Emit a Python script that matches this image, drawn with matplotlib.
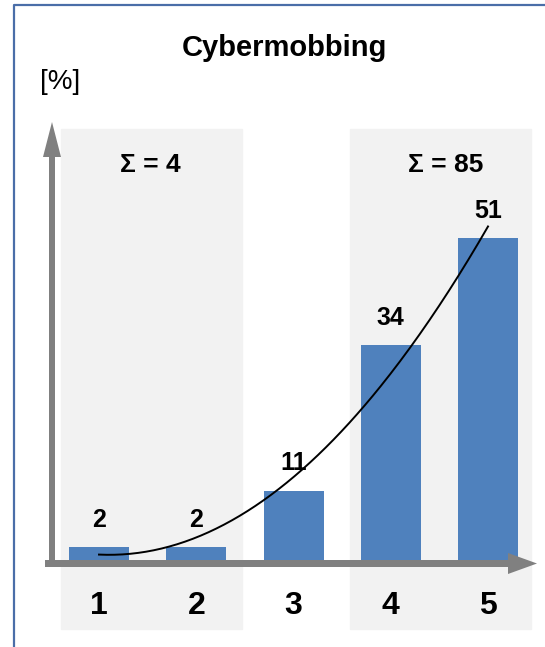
import numpy as np
import matplotlib.pyplot as plt
from matplotlib.patches import Rectangle

plt.rcParams['font.family'] = ['Liberation Sans', 'DejaVu Sans']

# Survey answers on a 1..5 scale, share in percent
categories = [1, 2, 3, 4, 5]
values = [2, 2, 11, 34, 51]
title = "Cybermobbing"
unit_label = "[%]"
sum_low = sum(values[:2])
sum_high = sum(values[3:])

bar_color = "#4f81bd"
shade = "#f2f2f2"
axis_gray = "#808080"
frame_blue = "#4a6ea8"

W, H = 545, 647
fig = plt.figure(figsize=(W / 100, H / 100), dpi=100)

# background layer in pixel units (frame, shaded groups)
bg = fig.add_axes([0, 0, 1, 1])
bg.set_xlim(0, W)
bg.set_ylim(H, 0)
bg.axis("off")

bg.plot([14, 14, W], [H, 5, 5], color=frame_blue, lw=1.6, solid_capstyle="butt")
bg.add_patch(Rectangle((61, 129), 181, 500, color=shade, zorder=0))
bg.add_patch(Rectangle((350, 129), 181, 500, color=shade, zorder=0))

# data layer on top
ax = fig.add_axes([0, 0, 1, 1])
ax.patch.set_alpha(0)
ax.axis("off")
ax.set_xlim(-0.018, 5.586)
ax.set_ylim(-13.79, 88.75)

ax.bar(categories, values, width=0.617, color=bar_color, zorder=2)

for x, v in zip(categories, values):
    ax.annotate(str(v), (x, v), xytext=(0, 11), textcoords="offset points",
                ha="center", va="bottom", fontsize=18, fontweight="bold", zorder=5)

# quadratic trend through the bars
coef = np.polyfit(categories, values, 2)
xs = np.linspace(categories[0], categories[-1], 200)
ax.plot(xs, np.polyval(coef, xs), color="black", lw=1.4, zorder=4)

# axis arrows: shaft + triangular head, drawn in pixel units
ax2 = fig.add_axes([0, 0, 1, 1], sharex=bg, sharey=bg)
ax2.patch.set_alpha(0)
ax2.axis("off")
ax2.fill([45, 509, 509, 45], [560, 560, 567, 567], color=axis_gray, lw=0, zorder=3)
ax2.fill([508, 537, 508], [553, 563.5, 574], color=axis_gray, lw=0, zorder=3)
ax2.fill([49, 55, 55, 49], [567, 567, 156, 156], color=axis_gray, lw=0, zorder=3)
ax2.fill([43, 52, 61], [157, 122, 157], color=axis_gray, lw=0, zorder=3)

for x in categories:
    ax.text(x, -7.3, str(x), ha="center", va="center", fontsize=23, fontweight="bold")

ax.text(1.53, 62.6, "Σ = %d" % sum_low, ha="center", va="center", fontsize=19, fontweight="bold")
ax.text(4.56, 62.6, "Σ = %d" % sum_high, ha="center", va="center", fontsize=19, fontweight="bold")

ax2.text(284.5, 48, title, ha="center", va="center", fontsize=21, fontweight="bold")
ax2.text(60, 82, unit_label, ha="center", va="center", fontsize=20)

fig.savefig("out.png", dpi=100)
